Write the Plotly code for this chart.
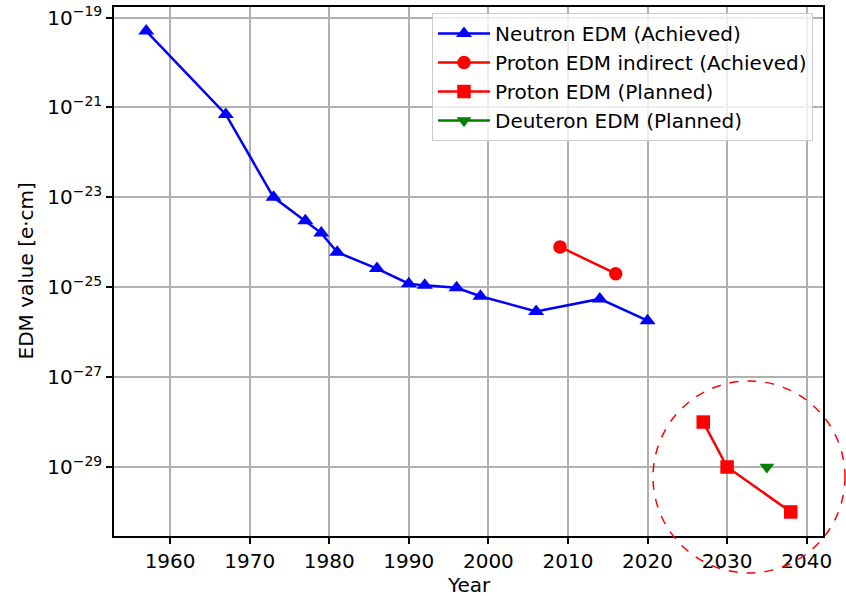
import plotly.graph_objects as go

# ---- data ----
neutron_years = [1957, 1967, 1973, 1977, 1979, 1981, 1986, 1990, 1992, 1996, 1999, 2006, 2014, 2020]
neutron_edm = [5e-20, 7e-22, 1e-23, 3e-24, 1.6e-24, 6e-25, 2.6e-25, 1.2e-25, 1.1e-25, 9.7e-26, 6.3e-26, 2.9e-26, 5.5e-26, 1.8e-26]

proton_ind_years = [2009, 2016]
proton_ind_edm = [7.9e-25, 2.0e-25]

proton_plan_years = [2027, 2030, 2038]
proton_plan_edm = [1e-28, 1e-29, 1e-30]

deuteron_years = [2035]
deuteron_edm = [1e-29]

x_ticks = [1960, 1970, 1980, 1990, 2000, 2010, 2020, 2030, 2040]
y_tick_exps = [-19, -21, -23, -25, -27, -29]

FONT = "DejaVu Sans"
FS = 20

fig = go.Figure()
traces = [
    (neutron_years, neutron_edm, "Neutron EDM (Achieved)", "#0000ff", "triangle-up", 14),
    (proton_ind_years, proton_ind_edm, "Proton EDM indirect (Achieved)", "#ff0000", "circle", 13.5),
    (proton_plan_years, proton_plan_edm, "Proton EDM (Planned)", "#ff0000", "square", 13.5),
    (deuteron_years, deuteron_edm, "Deuteron EDM (Planned)", "#008000", "triangle-down", 13),
]
for i, (xs, ys, name, col, sym, sz) in enumerate(traces):
    fig.add_trace(go.Scatter(x=xs, y=ys, mode="lines+markers", name=name,
                             legendgroup="g%d" % i,
                             line=dict(color=col, width=2.5),
                             marker=dict(symbol=sym, size=sz, color=col)))

# dashed circle highlighting planned experiments (pixel-sized, anchored in paper coords)
fig.add_shape(type="circle", xref="paper", yref="paper",
              xsizemode="pixel", ysizemode="pixel",
              xanchor=(749 - 114) / 709, yanchor=(536 - 477) / 529,
              x0=-96, x1=96, y0=-96, y1=96,
              line=dict(color="#ff0000", width=1.5, dash="dash"))

# axis titles as annotations (keeps plot area fixed)
fig.add_annotation(text="Year", xref="paper", yref="paper", x=0.5, y=0,
                   xanchor="center", yanchor="middle", yshift=-49, showarrow=False,
                   font=dict(family=FONT, size=FS, color="black"))
fig.add_annotation(text="EDM value [e\u22c5cm]", xref="paper", yref="paper", x=0, y=0.5,
                   xanchor="center", yanchor="middle", xshift=-89, textangle=-90,
                   showarrow=False, font=dict(family=FONT, size=FS, color="black"))

fig.update_layout(
    width=846, height=596,
    margin=dict(l=114, r=23, t=7, b=60, autoexpand=False),
    paper_bgcolor="white", plot_bgcolor="white",
    font=dict(family=FONT, size=FS, color="black"),
    showlegend=True,
    legend=dict(x=0.4485, y=(536 - 13) / 529, xanchor="left", yanchor="top",
                traceorder="grouped", tracegroupgap=0, itemwidth=52,
                bgcolor="rgba(255,255,255,0.8)", bordercolor="#cccccc", borderwidth=1,
                font=dict(family=FONT, size=FS, color="black")),
)
fig.update_xaxes(range=[1952.95, 2042.05], tickvals=x_ticks, automargin=False,
                 showgrid=True, gridcolor="#b0b0b0", gridwidth=1.5,
                 showline=True, linecolor="black", linewidth=1.5, mirror=True,
                 ticks="outside", ticklen=6, tickwidth=1.5, tickcolor="black",
                 zeroline=False,
                 tickfont=dict(family=FONT, size=FS))
fig.update_yaxes(type="log", range=[-30.535, -18.765], automargin=False,
                 tickvals=[10.0 ** e for e in y_tick_exps],
                 ticktext=["10<sup>\u2212%d</sup>" % (-e) for e in y_tick_exps],
                 showgrid=True, gridcolor="#b0b0b0", gridwidth=1.5,
                 showline=True, linecolor="black", linewidth=1.5, mirror=True,
                 ticks="outside", ticklen=6, tickwidth=1.5, tickcolor="black",
                 zeroline=False,
                 tickfont=dict(family=FONT, size=FS))

fig.write_html("out.html")
